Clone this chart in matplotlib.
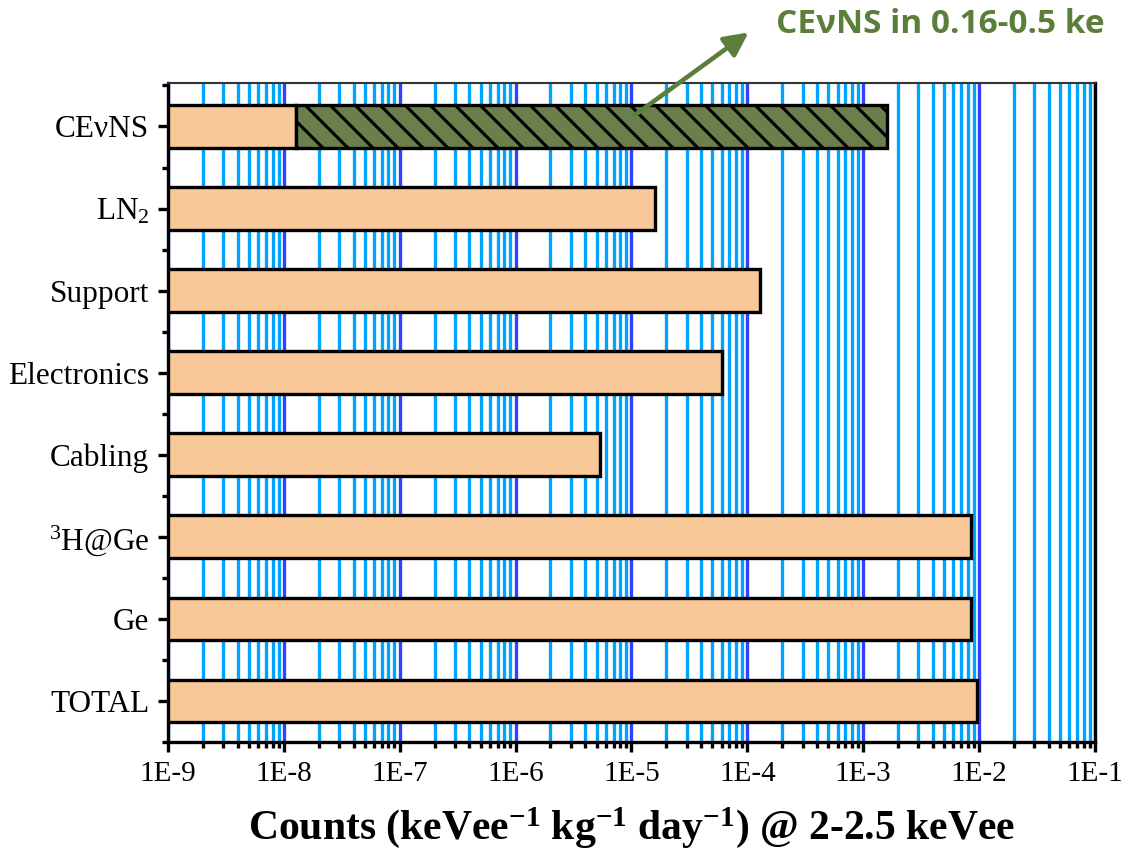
import numpy as np
import matplotlib
matplotlib.use('Agg')
import matplotlib.pyplot as plt
from matplotlib.ticker import FixedLocator, FixedFormatter, LogLocator, NullFormatter

plt.rcParams['font.family'] = ['Liberation Serif', 'DejaVu Serif']
plt.rcParams['mathtext.fontset'] = 'custom'
plt.rcParams['mathtext.rm'] = 'Liberation Serif'
plt.rcParams['mathtext.it'] = 'Liberation Serif:italic'
plt.rcParams['mathtext.bf'] = 'Liberation Serif:bold'
plt.rcParams['hatch.linewidth'] = 1.5

# categories from bottom to top
labels = ['TOTAL', 'Ge', '$\\mathregular{^3}$H@Ge', 'Cabling', 'Electronics', 'Support',
          'LN$\\mathregular{_2}$', 'CEνNS']
# counts (keVee^-1 kg^-1 day^-1) @ 2-2.5 keVee
counts = [9.5e-3, 8.6e-3, 8.5e-3, 5.3e-6, 6.0e-5, 1.28e-4, 1.6e-5, 1.27e-8]
# CEvNS in 0.16-0.5 keV
cevns_low = 1.6e-3
x_min = 1e-9
x_max = 1e-1
tick_vals = [1e-9, 1e-8, 1e-7, 1e-6, 1e-5, 1e-4, 1e-3, 1e-2, 1e-1]
tick_labels = ['1E-9', '1E-8', '1E-7', '1E-6', '1E-5', '1E-4', '1E-3', '1E-2', '1E-1']

bar_col = '#F8C898'
hatch_col = '#6B7F4C'
green = '#5B7F3A'

fig = plt.figure(figsize=(7.5, 859 / 150))
ax = fig.add_axes([0.1493, 0.1362, 0.824, 0.7672])

y = np.arange(len(labels))
widths = [c - x_min for c in counts]
ax.barh(y, widths, left=x_min, height=0.52, color=bar_col, edgecolor='k', lw=1.6, zorder=3)
ax.barh(y[-1], cevns_low - counts[-1], left=counts[-1], height=0.52, color=hatch_col,
        edgecolor='k', hatch='\\\\', lw=1.6, zorder=3)

ax.set_xscale('log')
ax.set_xlim(x_min, x_max)
ax.set_ylim(-0.49, 7.53)
ax.xaxis.set_major_locator(FixedLocator(tick_vals))
ax.xaxis.set_major_formatter(FixedFormatter(tick_labels))
ax.xaxis.set_minor_locator(LogLocator(base=10, subs=np.arange(2, 10), numticks=20))
ax.xaxis.set_minor_formatter(NullFormatter())
ax.set_yticks(y)
ax.set_yticklabels(labels)
ax.set_yticks(np.arange(-0.5, 7.6, 1.0), minor=True)

ax.set_axisbelow(True)
ax.grid(which='major', axis='x', color='#3440FF', lw=1.6)
ax.grid(which='minor', axis='x', color='#00A4FF', lw=1.6)

ax.tick_params(which='major', direction='out', length=5, width=1.6, pad=4)
ax.tick_params(axis='x', labelsize=14)
ax.tick_params(axis='y', labelsize=15)
ax.tick_params(which='minor', direction='out', length=3, width=1.6)
for s in ['left', 'bottom', 'right']:
    ax.spines[s].set_linewidth(1.6)
ax.spines['top'].set_linewidth(1.0)
ax.spines['top'].set_color('#333333')

ax.set_xlabel('Counts (keVee$^{\\mathbf{-1}}$ kg$^{\\mathbf{-1}}$ day$^{\\mathbf{-1}}$) @ 2-2.5 keVee',
              fontsize=20, fontweight='bold', labelpad=9)

ax.annotate('', xy=(0.6684, 0.9651), xycoords='figure fraction',
            xytext=(1.0e-5, 7.11), textcoords='data',
            arrowprops=dict(arrowstyle='-|>', color=green, lw=2.2, mutation_scale=24),
            zorder=5, annotation_clip=False)
fig.text(0.69, 0.971, 'CEνNS in 0.16-0.5 ke', ha='left', va='center', color=green,
         fontsize=16, fontweight='bold', family=['Open Sans', 'Lato', 'DejaVu Sans'])

fig.savefig('out.png', dpi=150)
